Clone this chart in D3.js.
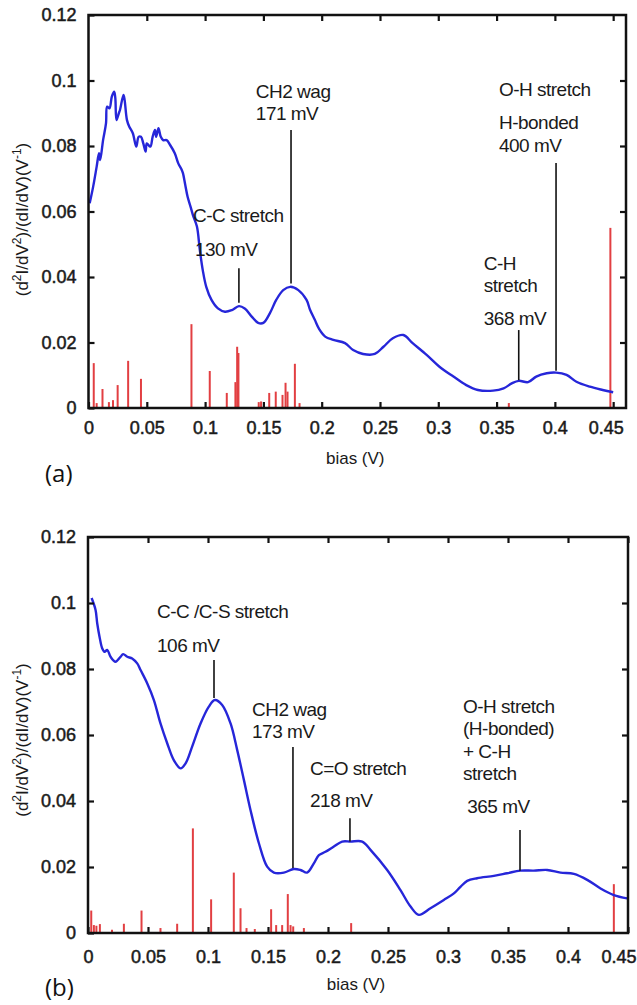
<!DOCTYPE html>
<html>
<head>
<meta charset="utf-8">
<script src="https://cdn.jsdelivr.net/npm/d3@7"></script>
<style>
  body { margin: 0; background: #fff; }
  svg { display: block; font-family: Arial, "Liberation Sans", Helvetica, sans-serif; }
</style>
</head>
<body>
<div id="chart"></div>
<script>
// =======================
// IETS spectra, panels (a) and (b)
// =======================

const xTicks = [0, 0.05, 0.1, 0.15, 0.2, 0.25, 0.3, 0.35, 0.4, 0.45];
const yTicks = [0, 0.02, 0.04, 0.06, 0.08, 0.1, 0.12];

// panel (a): measured curve
const biasA = [0.001, 0.004, 0.007, 0.009, 0.010, 0.0125, 0.015, 0.016, 0.018, 0.020, 0.022, 0.023, 0.024, 0.026, 0.027,
  0.030, 0.031, 0.033, 0.035, 0.038, 0.041, 0.043, 0.045, 0.047, 0.049, 0.050, 0.053, 0.055, 0.057, 0.058, 0.060, 0.062,
  0.064, 0.067, 0.070, 0.074, 0.077, 0.080, 0.081, 0.083, 0.085, 0.0875, 0.090, 0.093, 0.0955, 0.098, 0.101, 0.1055,
  0.111, 0.117, 0.123, 0.129, 0.134, 0.140, 0.1455, 0.150, 0.1555, 0.161, 0.167, 0.173, 0.180, 0.187, 0.190, 0.194,
  0.198, 0.203, 0.210, 0.220, 0.227, 0.2355, 0.2455, 0.253, 0.261, 0.270, 0.278, 0.290, 0.301, 0.313, 0.324, 0.334,
  0.347, 0.356, 0.363, 0.369, 0.377, 0.384, 0.393, 0.401, 0.410, 0.4185, 0.430, 0.441, 0.450];
const signalA = [0.0625, 0.0676, 0.0737, 0.0778, 0.0757, 0.0818, 0.0869, 0.0920, 0.0915, 0.0951, 0.0966, 0.0946, 0.0879, 0.0900, 0.0910,
  0.0956, 0.0940, 0.0879, 0.0859, 0.0839, 0.0798, 0.0828, 0.0828, 0.0808, 0.0783, 0.0808, 0.0798, 0.0828, 0.0849, 0.0828, 0.0854, 0.0828,
  0.0818, 0.0818, 0.0803, 0.0778, 0.0747, 0.0727, 0.0717, 0.0681, 0.0645, 0.0615, 0.0584, 0.0554, 0.0482, 0.0421, 0.0370, 0.0330,
  0.0304, 0.0294, 0.0299, 0.0311, 0.0304, 0.0279, 0.0260, 0.0260, 0.0289, 0.0330, 0.0360, 0.0370, 0.0360, 0.0330, 0.0300, 0.0270,
  0.0240, 0.0218, 0.0208, 0.0198, 0.0177, 0.0165, 0.0165, 0.0187, 0.0213, 0.0223, 0.0198, 0.0162, 0.0126, 0.0096, 0.0070, 0.0055,
  0.0053, 0.0060, 0.0075, 0.0083, 0.0079, 0.0096, 0.0106, 0.0108, 0.0101, 0.0080, 0.0065, 0.0055, 0.0048];

// panel (a): calculated modes (red sticks)
const modeBiasA = [0.0045, 0.007, 0.012, 0.0175, 0.021, 0.025, 0.034, 0.045, 0.0883, 0.104, 0.1186, 0.126, 0.1275, 0.1286,
  0.146, 0.148, 0.155, 0.1606, 0.1664, 0.169, 0.1707, 0.177, 0.181, 0.3605, 0.4476];
const modeHeightA = [0.0137, 0.0015, 0.0058, 0.0018, 0.0024, 0.0070, 0.0144, 0.0089, 0.0256, 0.0113, 0.0046, 0.0079, 0.0187, 0.0168,
  0.0018, 0.0020, 0.0046, 0.0050, 0.0040, 0.0077, 0.0050, 0.0135, 0.0015, 0.0015, 0.0550];

// panel (b): measured curve
const biasB = [0.003, 0.0063, 0.0077, 0.0096, 0.0118, 0.0138, 0.016, 0.0188, 0.0229, 0.0271, 0.0293, 0.0327, 0.0368, 0.041,
  0.0438, 0.0493, 0.0549, 0.0604, 0.066, 0.0715, 0.0771, 0.0813, 0.0868, 0.0938, 0.1007, 0.1057, 0.1118, 0.1188, 0.1243,
  0.1299, 0.1354, 0.1424, 0.1493, 0.1549, 0.1632, 0.1715, 0.1771, 0.1826, 0.1882, 0.1924, 0.1979, 0.2049, 0.2118, 0.2188,
  0.2285, 0.2354, 0.2493, 0.2604, 0.2688, 0.2757, 0.2854, 0.2965, 0.3049, 0.3104, 0.316, 0.3243, 0.3382, 0.3493, 0.3604,
  0.3715, 0.3826, 0.3938, 0.4049, 0.416, 0.4271, 0.4382, 0.4493];
const signalB = [0.1015, 0.0979, 0.0938, 0.0898, 0.0863, 0.0852, 0.0858, 0.0837, 0.0822, 0.0837, 0.0845, 0.0837, 0.0832, 0.0817,
  0.0797, 0.0757, 0.0706, 0.0635, 0.0575, 0.0524, 0.0499, 0.0514, 0.0565, 0.0635, 0.0686, 0.0706, 0.0691, 0.0635, 0.0555,
  0.0464, 0.0373, 0.0272, 0.0201, 0.0183, 0.0183, 0.0194, 0.0191, 0.0183, 0.0211, 0.0236, 0.0246, 0.0262, 0.0277, 0.0277,
  0.0277, 0.0252, 0.0191, 0.0130, 0.0080, 0.0055, 0.0075, 0.0100, 0.0120, 0.0140, 0.0158, 0.0166, 0.0173, 0.0181, 0.0189,
  0.0189, 0.0191, 0.0183, 0.0179, 0.0161, 0.0135, 0.0115, 0.0105];

// panel (b): calculated modes (red sticks)
const modeBiasB = [0.0027, 0.0049, 0.007, 0.0099, 0.02, 0.0299, 0.0446, 0.0604, 0.0743, 0.0874, 0.1026, 0.1215, 0.1271,
  0.1321, 0.139, 0.1526, 0.1568, 0.1618, 0.1665, 0.1688, 0.171, 0.1799, 0.2193, 0.4382];
const modeHeightB = [0.0068, 0.0024, 0.0022, 0.0027, 0.0010, 0.0028, 0.0068, 0.0015, 0.0028, 0.0317, 0.0102, 0.0183, 0.0075,
  0.0015, 0.0012, 0.0072, 0.0024, 0.0024, 0.0118, 0.0024, 0.0020, 0.0015, 0.0030, 0.0148];

// peak markers: bias of the marker line, line top and bottom (signal units)
const markersA = [
  { bias: 0.129, top: 0.0427, bottom: 0.0321 },
  { bias: 0.1737, top: 0.0849, bottom: 0.0380 },
  { bias: 0.369, top: 0.0238, bottom: 0.0085 },
  { bias: 0.401, top: 0.0748, bottom: 0.0114 }
];
const labelsA = [
  { text: "C-C stretch", bias: 0.0896, value: 0.0568 },
  { text: "130 mV", bias: 0.0913, value: 0.0464 },
  { text: "CH2 wag", bias: 0.1435, value: 0.0947 },
  { text: "171 mV", bias: 0.1435, value: 0.0879 },
  { text: "C-H", bias: 0.339, value: 0.0421 },
  { text: "stretch", bias: 0.339, value: 0.0355 },
  { text: "368 mV", bias: 0.339, value: 0.0254 },
  { text: "O-H stretch", bias: 0.352, value: 0.0953 },
  { text: "H-bonded", bias: 0.352, value: 0.0852 },
  { text: "400 mV", bias: 0.352, value: 0.0783 }
];

const markersB = [
  { bias: 0.105, top: 0.0827, bottom: 0.0712 },
  { bias: 0.1708, top: 0.0564, bottom: 0.0197 },
  { bias: 0.2183, top: 0.0348, bottom: 0.0277 },
  { bias: 0.360, top: 0.0312, bottom: 0.0189 }
];
const labelsB = [
  { text: "C-C /C-S stretch", bias: 0.0575, value: 0.0955 },
  { text: "106 mV", bias: 0.0575, value: 0.0852 },
  { text: "CH2 wag", bias: 0.1367, value: 0.0658 },
  { text: "173 mV", bias: 0.1367, value: 0.0591 },
  { text: "C=O stretch", bias: 0.185, value: 0.0479 },
  { text: "218 mV", bias: 0.185, value: 0.0383 },
  { text: "O-H stretch", bias: 0.3125, value: 0.0667 },
  { text: "(H-bonded)", bias: 0.3125, value: 0.0600 },
  { text: "+ C-H", bias: 0.3125, value: 0.0530 },
  { text: "stretch", bias: 0.3125, value: 0.0464 },
  { text: "365 mV", bias: 0.316, value: 0.0364 }
];

// =======================
// Drawing
// =======================
const W = 637, H = 1005;
const svg = d3.select("#chart")
  .append("svg")
    .attr("width", W)
    .attr("height", H);

function drawPanel(p) {
  const x = d3.scaleLinear().domain([0, p.xMax]).range([p.left, p.right]);
  const y = d3.scaleLinear().domain([0, 0.12]).range([p.bottom, p.top]);
  const g = svg.append("g");

  // Red sticks
  g.selectAll("line.mode")
    .data(p.modeBias.map((b, i) => ({ b, h: p.modeHeight[i] })))
    .enter()
    .append("line")
      .attr("class", "mode")
      .attr("x1", d => x(d.b)).attr("x2", d => x(d.b))
      .attr("y1", y(0)).attr("y2", d => y(d.h))
      .attr("stroke", "#e23f42")
      .attr("stroke-width", 2);

  // Blue curve
  const line = d3.line()
    .x(d => x(d[0]))
    .y(d => y(d[1]))
    .curve(d3.curveCatmullRom.alpha(0.5));
  g.append("path")
    .datum(p.bias.map((b, i) => [b, p.signal[i]]))
    .attr("d", line)
    .attr("fill", "none")
    .attr("stroke", "#2626d9")
    .attr("stroke-width", 2.4)
    .attr("stroke-linejoin", "round");

  // Axes: inward ticks on all four sides
  const fmt = d => String(d);
  const bottomAx = g.append("g")
    .attr("transform", `translate(0,${p.bottom})`)
    .call(d3.axisBottom(x).tickValues(xTicks).tickFormat(fmt).tickSizeInner(-6).tickSizeOuter(0).tickPadding(p.xPad));
  g.append("g")
    .attr("transform", `translate(0,${p.top})`)
    .call(d3.axisTop(x).tickValues(xTicks.slice(1)).tickFormat("").tickSizeInner(-6).tickSizeOuter(0));
  const leftAx = g.append("g")
    .attr("transform", `translate(${p.left},0)`)
    .call(d3.axisLeft(y).tickValues(yTicks).tickFormat(fmt).tickSizeInner(-6).tickSizeOuter(0).tickPadding(12));
  g.append("g")
    .attr("transform", `translate(${p.right},0)`)
    .call(d3.axisRight(y).tickValues(yTicks.slice(1, -1)).tickFormat("").tickSizeInner(-6).tickSizeOuter(0));

  g.selectAll(".domain").remove();
  g.selectAll(".tick line").attr("stroke", "#111").attr("stroke-width", 2.2);
  [bottomAx, leftAx].forEach(a => a.selectAll("text")
    .attr("font-family", null)
    .style("font-size", "18px")
    .attr("fill", "#1a1a1a")
    .attr("stroke", "#1a1a1a")
    .attr("stroke-width", 0.5));
  // keep the last bias label inside the page
  if (p.right + 18 > W) {
    bottomAx.selectAll(".tick:last-of-type text")
      .attr("text-anchor", "end")
      .attr("dx", W - 1 - p.right);
  }

  // Frame
  g.append("rect")
    .attr("x", p.left).attr("y", p.top)
    .attr("width", p.right - p.left).attr("height", p.bottom - p.top)
    .attr("fill", "none")
    .attr("stroke", "#111")
    .attr("stroke-width", 2.5);

  // Peak markers
  g.selectAll("line.marker")
    .data(p.markers)
    .enter()
    .append("line")
      .attr("class", "marker")
      .attr("x1", d => x(d.bias)).attr("x2", d => x(d.bias))
      .attr("y1", d => y(d.top)).attr("y2", d => y(d.bottom))
      .attr("stroke", "#111")
      .attr("stroke-width", 1.6);

  g.selectAll("text.label")
    .data(p.labels)
    .enter()
    .append("text")
      .attr("class", "label")
      .attr("x", d => x(d.bias))
      .attr("y", d => y(d.value))
      .attr("fill", "#1a1a1a")
      .style("font-size", "19px")
      .style("letter-spacing", "-0.5px")
      .text(d => d.text);

  // Axis titles
  g.append("text")
    .attr("x", (p.left + p.right) / 2 - 2)
    .attr("y", p.bottom + p.titleGap)
    .attr("text-anchor", "middle")
    .attr("fill", "#1a1a1a")
    .style("font-size", "17px")
    .text("bias (V)");

  const yt = g.append("text")
    .attr("transform", `translate(28,${(p.top + p.bottom) / 2 + p.titleShift}) rotate(-90)`)
    .attr("text-anchor", "middle")
    .attr("fill", "#1a1a1a")
    .style("font-size", "17px");
  yt.append("tspan").text("(d");
  yt.append("tspan").attr("dy", -7).style("font-size", "12px").text("2");
  yt.append("tspan").attr("dy", 7).text("I/dV");
  yt.append("tspan").attr("dy", -7).style("font-size", "12px").text("2");
  yt.append("tspan").attr("dy", 7).text(")/(dI/dV)(V");
  yt.append("tspan").attr("dy", -7).style("font-size", "12px").text("-1");
  yt.append("tspan").attr("dy", 7).text(")");

  // Panel letter
  svg.append("text")
    .attr("x", 45)
    .attr("y", p.letterY)
    .attr("fill", "#111")
    .style("font-family", "'Open Sans', sans-serif")
    .style("font-size", "24px")
    .text(p.letter);
}

drawPanel({
  left: 88.5, right: 626, top: 15, bottom: 408, xMax: 0.461, xPad: 13, titleGap: 56, titleShift: 8,
  bias: biasA, signal: signalA, modeBias: modeBiasA, modeHeight: modeHeightA,
  markers: markersA, labels: labelsA, letter: "(a)", letterY: 482
});

drawPanel({
  left: 88, right: 628, top: 537, bottom: 933, xMax: 0.45, xPad: 17, titleGap: 57, titleShift: 5,
  bias: biasB, signal: signalB, modeBias: modeBiasB, modeHeight: modeHeightB,
  markers: markersB, labels: labelsB, letter: "(b)", letterY: 996
});
</script>
</body>
</html>
